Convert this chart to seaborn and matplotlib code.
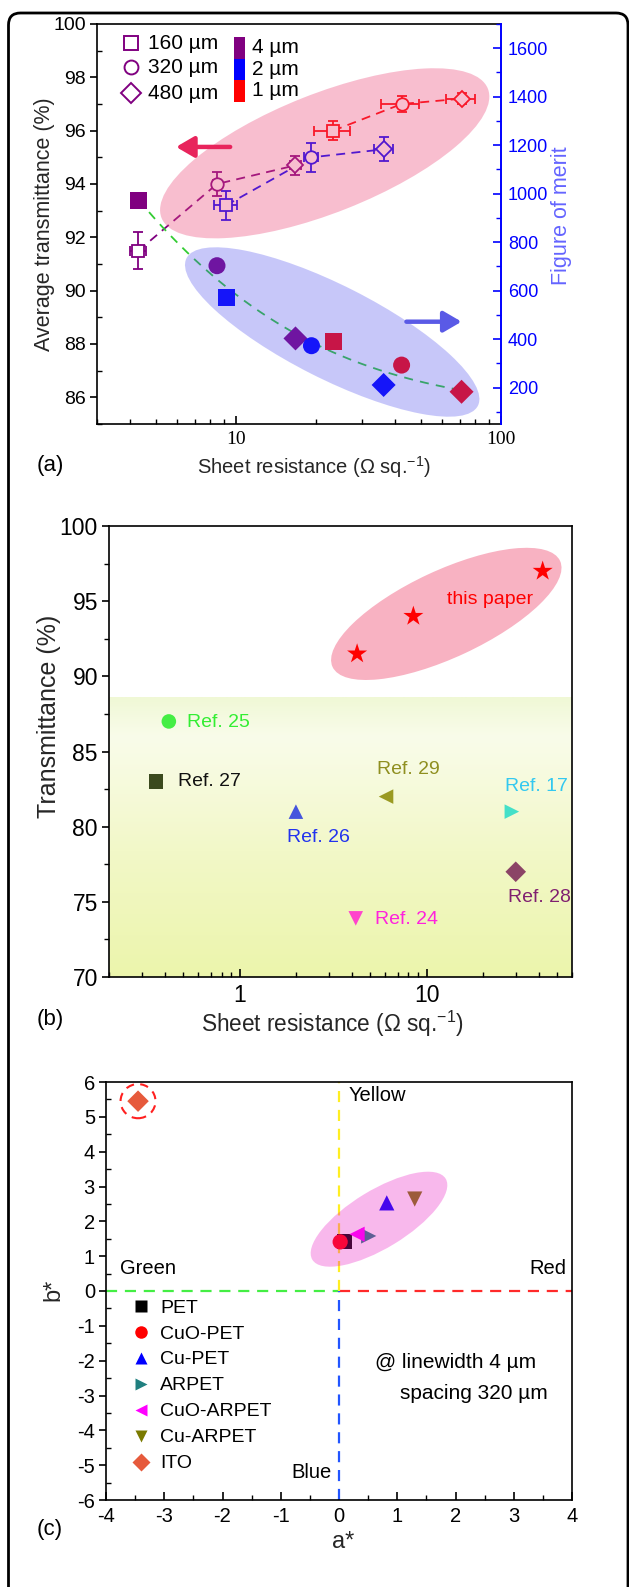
import numpy as np
import pandas as pd
import matplotlib
matplotlib.use('Agg')
import matplotlib.pyplot as plt
import seaborn as sns
from matplotlib.patches import Ellipse, Rectangle, FancyBboxPatch
from matplotlib.transforms import Affine2D
from matplotlib.ticker import FixedLocator, NullFormatter, MultipleLocator, FixedFormatter
from matplotlib.lines import Line2D

# ---------------- data: panel (a) ----------------
spacing_levels = ['160 µm', '320 µm', '480 µm']
width_levels = ['4 µm', '2 µm', '1 µm']
a_width = ['4 µm', '4 µm', '4 µm', '2 µm', '2 µm', '2 µm', '1 µm', '1 µm', '1 µm']
a_spacing = ['160 µm', '320 µm', '480 µm', '160 µm', '320 µm', '480 µm', '160 µm', '320 µm', '480 µm']
a_rs = [4.3, 8.5, 16.8, 9.2, 19.3, 36.1, 23.3, 42.2, 71.0]
a_rs_err = [0.3, 0.3, 0.8, 0.9, 1.2, 3.0, 3.6, 7.0, 8.9]
a_trans = [91.5, 94.0, 94.7, 93.2, 95.0, 95.3, 96.0, 97.0, 97.2]
a_trans_err = [0.7, 0.45, 0.35, 0.55, 0.55, 0.45, 0.35, 0.3, 0.2]
a_fom = [970, 703, 403, 571, 373, 211, 389, 293, 183]

# ---------------- data: panel (b) ----------------
paper_rs = [4.25, 8.5, 41.8]
paper_t = [91.5, 94.0, 97.0]
ref_labels = ['Ref. 25', 'Ref. 27', 'Ref. 26', 'Ref. 29', 'Ref. 17', 'Ref. 28', 'Ref. 24']
ref_rs = [0.418, 0.357, 2.0, 6.07, 28.6, 30.0, 4.18]
ref_t = [87.0, 83.0, 81.0, 82.0, 81.0, 77.0, 73.9]

# ---------------- data: panel (c) ----------------
c_names = ['PET', 'CuO-PET', 'Cu-PET', 'ARPET', 'CuO-ARPET', 'Cu-ARPET', 'ITO']
c_a = [0.10, 0.02, 0.82, 0.51, 0.31, 1.30, -3.45]
c_b = [1.43, 1.41, 2.53, 1.58, 1.63, 2.64, 5.45]

# ---------------- styles ----------------
width_colors = ['#800080', '#0000ff', '#ff0000']
spacing_markers = ['s', 'o', 'D']
ref_marker_colors = ['#44ee44', '#3b4a1e', '#4455dd', '#9a9a22', '#44e0c8', '#8b4466', '#ff44cc']
ref_text_colors = ['#33ee33', '#111111', '#2233ee', '#8f8f20', '#33c8f0', '#802070', '#ff22dd']
ref_markers = ['o', 's', '^', '<', '>', 'D', 'v']
ref_text_pos = [(0.522, 86.96), (0.469, 83.03), (1.785, 79.3), (5.43, 83.83),
                (26.3, 82.7), (27.2, 75.3), (5.3, 73.85)]
c_colors = ['#000000', '#ff0000', '#0000ff', '#208080', '#ff00ff', '#7a7a00', '#e65a3c']
c_markers = ['s', 'o', '^', '>', '<', 'v', 'D']

sns.set_theme(style='white')
plt.rcParams['font.family'] = ['Liberation Sans', 'DejaVu Sans']
plt.rcParams['mathtext.fontset'] = 'custom'
plt.rcParams['mathtext.rm'] = 'Liberation Sans'
plt.rcParams['axes.unicode_minus'] = False
plt.rcParams['axes.linewidth'] = 1.2
plt.rcParams['axes.edgecolor'] = 'black'
plt.rcParams['text.color'] = 'black'
plt.rcParams['xtick.color'] = 'black'
plt.rcParams['ytick.color'] = 'black'

W, H = 629, 1587
fig = plt.figure(figsize=(W / 100, H / 100), dpi=100)
fig.patch.set_facecolor('white')


def add_ax(l, t, r, b):
    return fig.add_axes([l / W, 1 - b / H, (r - l) / W, (b - t) / H])


def px_ellipse(ax, cx, cy, w, h, angle, **kw):
    bb = ax.get_position()
    l = bb.x0 * W
    bpx = H - bb.y0 * H
    axw = bb.width * W
    axh = bb.height * H
    tr = Affine2D().scale(1 / axw, 1 / axh) + ax.transAxes
    e = Ellipse((cx - l, bpx - cy), w, h, angle=angle, transform=tr, **kw)
    ax.add_patch(e)
    return e


def style_ticks(ax, xs=14, ys=14):
    ax.tick_params(axis='x', which='major', direction='in', length=6, width=1.2,
                   labelsize=xs, pad=5, top=False, bottom=True)
    ax.tick_params(axis='x', which='minor', direction='in', length=3.5, width=1.0,
                   top=False, bottom=True)
    ax.tick_params(axis='y', which='major', direction='out', length=5, width=1.2,
                   labelsize=ys, pad=3, left=True, right=False)
    ax.tick_params(axis='y', which='minor', direction='in', length=3.5, width=1.0,
                   left=True, right=False)
    for s in ax.spines.values():
        s.set_visible(True)
        s.set_color('black')
        s.set_linewidth(1.2)


# ======================= panel (a) =======================
axA = add_ax(97, 24, 501, 424)
axA.set_facecolor('none')
axA.set_xscale('log')
axA.set_xlim(3, 100)
axA.set_ylim(85, 100)
axA2 = axA.twinx()
axA2.set_ylim(50, 1700)

dfA = pd.DataFrame(dict(rs=a_rs, T=a_trans, fom=a_fom, width=a_width, spacing=a_spacing))

sns.lineplot(data=dfA, x='rs', y='T', hue='width', hue_order=width_levels,
             palette=width_colors, ax=axA, legend=False, lw=1.3,
             linestyle=(0, (5, 3.5)), errorbar=None, zorder=2)

for i in range(len(a_rs)):
    col = width_colors[width_levels.index(a_width[i])]
    mk = spacing_markers[spacing_levels.index(a_spacing[i])]
    ms = 9 if mk != 'D' else 8.5
    axA.errorbar(a_rs[i], a_trans[i], xerr=a_rs_err[i], yerr=a_trans_err[i], fmt=mk,
                 mfc='white', mec=col, ecolor=col, ms=ms, mew=1.3, elinewidth=1.3,
                 capsize=3.5, capthick=1.3, zorder=3)

px_ellipse(axA, 324.7, 153.3, 351, 119, 21.6, facecolor=(235 / 255, 70 / 255, 120 / 255),
           alpha=0.35, lw=0, zorder=4)

lx = np.log10(np.array(a_rs))
coef = np.polyfit(lx, np.array(a_fom), 3)
xs = np.logspace(lx.min(), lx.max(), 200)
sns.lineplot(x=xs, y=np.polyval(coef, np.log10(xs)), ax=axA2, color='#33cc33', lw=1.3,
             linestyle=(0, (5, 4)), zorder=2)
sns.scatterplot(data=dfA, x='rs', y='fom', hue='width', style='spacing',
                hue_order=width_levels, style_order=spacing_levels,
                palette=width_colors, markers=spacing_markers, s=150,
                edgecolor='none', legend=False, ax=axA2, zorder=3)
px_ellipse(axA2, 332.2, 332, 326.6, 93.4, -26.85, facecolor=(72 / 255, 72 / 255, 238 / 255),
           alpha=0.3, lw=0, zorder=4)

axA.annotate('', xy=(5.96, 95.39), xytext=(9.53, 95.39),
             arrowprops=dict(arrowstyle='-|>,head_length=0.6,head_width=0.35', lw=3.2,
                             color='#e8245c', mutation_scale=18, shrinkA=0, shrinkB=0), zorder=5)
axA2.annotate('', xy=(71.0, 472), xytext=(44.0, 472),
              arrowprops=dict(arrowstyle='-|>,head_length=0.6,head_width=0.35', lw=3.2,
                              color='#5a5ae6', mutation_scale=18, shrinkA=0, shrinkB=0), zorder=5)

leg_y = [0.952, 0.892, 0.827]
for k in range(3):
    axA.plot([0.084], [leg_y[k]], marker=spacing_markers[k], mfc='white', mec='#800080',
             ms=10, mew=1.4, ls='none', transform=axA.transAxes, zorder=6)
    axA.text(0.127, leg_y[k], spacing_levels[k], transform=axA.transAxes, va='center',
             ha='left', fontsize=15)
bar_top, bar_bot = 0.967, 0.806
seg = (bar_top - bar_bot) / 3
for k in range(3):
    axA.add_patch(Rectangle((0.339, bar_top - (k + 1) * seg), 0.027, seg,
                            transform=axA.transAxes, facecolor=width_colors[k], lw=0, zorder=6))
    axA.text(0.383, bar_top - (k + 0.5) * seg, width_levels[k], transform=axA.transAxes,
             va='center', ha='left', fontsize=15)

style_ticks(axA, 14, 14)
axA.spines['right'].set_visible(False)
axA.set_ylabel('Average transmittance (%)', fontsize=15.5)
axA.yaxis.set_label_coords(-0.131, 0.5)
axA.yaxis.label.set_va('center')
axA.yaxis.set_major_locator(MultipleLocator(2))
axA.yaxis.set_minor_locator(MultipleLocator(1))
axA.grid(False)

axA2.set_ylim(50, 1700)
axA2.yaxis.set_major_locator(FixedLocator([200, 400, 600, 800, 1000, 1200, 1400, 1600]))
axA2.yaxis.set_minor_locator(MultipleLocator(100))
axA2.tick_params(axis='y', which='major', direction='in', length=6, width=1.2, labelsize=13,
                 colors='#0000ff', pad=5, right=True, left=False)
axA2.tick_params(axis='y', which='minor', direction='in', length=3.5, width=1.0,
                 colors='#0000ff', right=True, left=False)
for nm, s in axA2.spines.items():
    s.set_visible(nm == 'right')
axA2.spines['right'].set_color('#0000ff')
axA2.spines['right'].set_linewidth(1.4)
axA2.set_ylabel('Figure of merit', fontsize=15.5, color='#6464ff')
axA2.yaxis.set_label_coords(1.15, 0.52)
axA2.yaxis.label.set_va('center')
axA2.set_xlabel('')
axA2.grid(False)

# shared log x axis of panel (a): set last so nothing resets it
axA.set_xlim(3, 100)
axA.xaxis.set_major_locator(FixedLocator([10, 100]))
axA.xaxis.set_major_formatter(FixedFormatter(['10', '100']))
axA.xaxis.set_minor_locator(FixedLocator([3, 4, 5, 6, 7, 8, 9, 20, 30, 40, 50, 60, 70, 80, 90]))
axA.xaxis.set_minor_formatter(NullFormatter())
for t in axA.get_xticklabels():
    t.set_fontfamily('Liberation Serif')
    t.set_fontsize(14)
axA.tick_params(axis='x', which='major', labelfontfamily='Liberation Serif', labelsize=14)
axA.set_xlabel('Sheet resistance (Ω sq.$^{\\mathregular{-1}}$)', fontsize=14.5)
axA.xaxis.set_label_coords(0.536, -0.107)
axA.xaxis.label.set_va('center')
axA.set_ylim(85, 100)

# ======================= panel (b) =======================
axB = add_ax(109, 526, 572, 977)
axB.set_xscale('log')
axB.set_xlim(0.2, 60)
axB.set_ylim(70, 100)
axB.set_autoscale_on(False)

band_top = (88.6 - 70) / 30
nrows = 200
stops_y = np.array([0.0, 0.45, 0.86, 1.0])
stops_c = np.array([[236, 245, 172], [242, 248, 200], [249, 252, 234], [240, 248, 214]]) / 255
tt = np.linspace(0, 1, nrows)
grad = np.stack([np.interp(tt, stops_y, stops_c[:, j]) for j in range(3)], axis=-1)[:, None, :]
axB.imshow(grad, extent=(0, 1, 0, band_top), transform=axB.transAxes, origin='lower',
           aspect='auto', zorder=0, interpolation='bilinear')
axB.set_xlim(0.2, 60)
axB.set_ylim(70, 100)

px_ellipse(axB, 446.3, 613.9, 251, 87, 25, facecolor='#f8b2c2', lw=0, zorder=1)

dfB = pd.DataFrame(dict(rs=ref_rs, T=ref_t, ref=ref_labels))
sns.scatterplot(data=dfB, x='rs', y='T', hue='ref', style='ref', hue_order=ref_labels,
                style_order=ref_labels, palette=ref_marker_colors, markers=ref_markers,
                s=110, edgecolor='none', legend=False, ax=axB, zorder=3)
sns.scatterplot(x=paper_rs, y=paper_t, marker='*', color='#ff0000', s=230, edgecolor='none',
                ax=axB, zorder=3, legend=False)
for k, lab in enumerate(ref_labels):
    axB.text(ref_text_pos[k][0], ref_text_pos[k][1], lab, color=ref_text_colors[k],
             fontsize=14, ha='left', va='center', zorder=4)
axB.text(21.8, 95.08, 'this paper', color='#ff0000', fontsize=14, ha='center', va='center', zorder=4)

style_ticks(axB, 16.5, 16.5)
axB.tick_params(axis='y', which='minor', direction='out', length=3.5)
axB.xaxis.set_major_locator(FixedLocator([1, 10]))
axB.xaxis.set_major_formatter(FixedFormatter(['1', '10']))
axB.xaxis.set_minor_locator(FixedLocator([0.2, 0.3, 0.4, 0.5, 0.6, 0.7, 0.8, 0.9,
                                          2, 3, 4, 5, 6, 7, 8, 9, 20, 30, 40, 50, 60]))
axB.xaxis.set_minor_formatter(NullFormatter())
axB.yaxis.set_major_locator(MultipleLocator(5))
axB.yaxis.set_minor_locator(MultipleLocator(2.5))
axB.set_xlim(0.2, 60)
axB.set_ylim(70, 100)
axB.set_xlabel('Sheet resistance (Ω sq.$^{\\mathregular{-1}}$)', fontsize=16.3)
axB.set_ylabel('Transmittance (%)', fontsize=18)
axB.xaxis.set_label_coords(0.482, -0.105)
axB.xaxis.label.set_va('center')
axB.yaxis.set_label_coords(-0.129, 0.577)
axB.yaxis.label.set_va('center')
axB.grid(False)

# ======================= panel (c) =======================
axC = add_ax(106, 1082, 572, 1500)
axC.set_xlim(-4, 4)
axC.set_ylim(-6, 6)
dash = (0, (5, 3.5))
axC.axhline(0, 0, 0.5, color='#44ee44', lw=1.6, ls=dash, zorder=1)
axC.axhline(0, 0.5, 1, color='#ff2a2a', lw=1.6, ls=dash, zorder=1)
axC.axvline(0, 0.5, 1, color='#ffee22', lw=1.6, ls=dash, zorder=1)
axC.axvline(0, 0, 0.5, color='#2255ff', lw=1.6, ls=dash, zorder=1)

dfC = pd.DataFrame(dict(a=c_a, b=c_b, name=c_names))
sns.scatterplot(data=dfC, x='a', y='b', hue='name', style='name', hue_order=c_names,
                style_order=c_names, palette=c_colors, markers=c_markers, s=120,
                edgecolor='none', legend=False, ax=axC, zorder=3)
ito = c_names.index('ITO')
axC.add_patch(Ellipse((c_a[ito], c_b[ito]), 0.6, 0.98, fill=False, ec='#ff2020', lw=1.5,
                      ls=(0, (4, 3)), zorder=3))
px_ellipse(axC, 379, 1219.2, 156, 58, 31.3, facecolor=(235 / 255, 20 / 255, 195 / 255),
           alpha=0.3, lw=0, zorder=4)

axC.text(0.17, 5.62, 'Yellow', fontsize=14.5, ha='left', va='center')
axC.text(-3.76, 0.65, 'Green', fontsize=14.5, ha='left', va='center')
axC.text(3.9, 0.65, 'Red', fontsize=14.5, ha='right', va='center')
axC.text(-0.12, -5.22, 'Blue', fontsize=14.5, ha='right', va='center')
axC.text(0.62, -2.06, '@ linewidth 4 µm', fontsize=15, ha='left', va='center')
axC.text(1.05, -2.94, 'spacing 320 µm', fontsize=15, ha='left', va='center')

handles = [Line2D([], [], marker=c_markers[k], color=c_colors[k], ls='none', ms=9,
                  mec='none') for k in range(len(c_names))]
axC.legend(handles, c_names, loc='upper left', bbox_to_anchor=(0.054, 0.481), frameon=False,
           fontsize=14, handlelength=1.0, handletextpad=0.5, labelspacing=0.43,
           borderaxespad=0, borderpad=0)

style_ticks(axC, 14.5, 14.5)
axC.xaxis.set_major_locator(MultipleLocator(1))
axC.xaxis.set_minor_locator(MultipleLocator(0.5))
axC.yaxis.set_major_locator(MultipleLocator(1))
axC.yaxis.set_minor_locator(MultipleLocator(0.5))
axC.set_xlim(-4, 4)
axC.set_ylim(-6, 6)
axC.set_xlabel('a*', fontsize=17)
axC.set_ylabel('b*', fontsize=17)
axC.xaxis.set_label_coords(0.509, -0.0997)
axC.xaxis.label.set_va('center')
axC.yaxis.set_label_coords(-0.112, 0.502)
axC.yaxis.label.set_va('center')
axC.grid(False)

fig.text(50 / W, 1 - 465 / H, '(a)', ha='center', va='center', fontsize=16)
fig.text(50 / W, 1 - 1019 / H, '(b)', ha='center', va='center', fontsize=16)
fig.text(50 / W, 1 - 1530 / H, '(c)', ha='center', va='center', fontsize=16)

frame = FancyBboxPatch((0.085, -0.5), 6.195, 16.24,
                       boxstyle='round,pad=0,rounding_size=0.12',
                       transform=fig.dpi_scale_trans, fill=False, ec='black', lw=2.0)
fig.patches.append(frame)

fig.savefig('out.png', dpi=100, facecolor='white')
